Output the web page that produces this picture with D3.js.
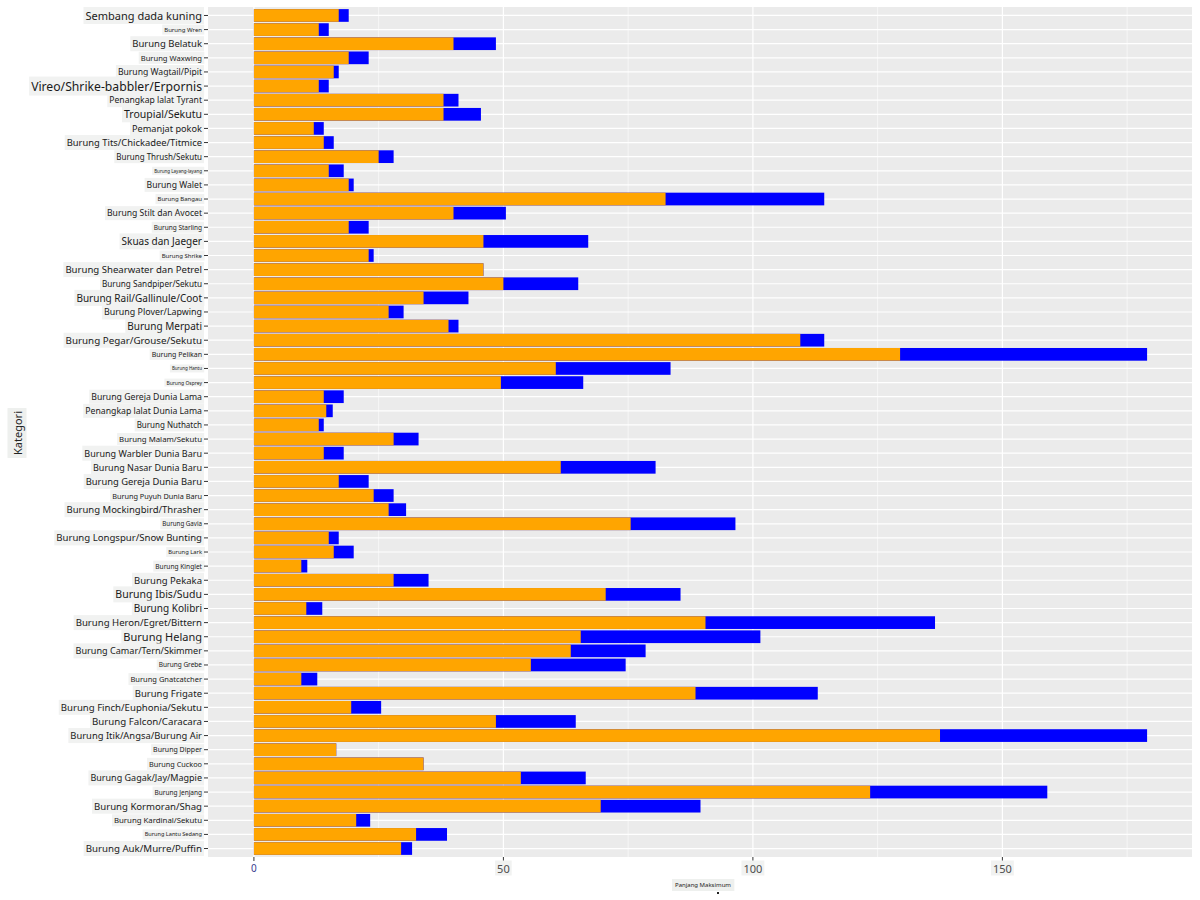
<!DOCTYPE html>
<html><head><meta charset="utf-8">
<script src="https://cdn.jsdelivr.net/npm/d3@7"></script>
<style>body{margin:0;background:#fff;} svg{display:block;font-family:"Noto Sans","Open Sans",sans-serif;}</style>
</head><body>
<svg id="chart" width="1200" height="900"></svg>
<script>
const categories = [
"Sembang dada kuning","Burung Wren","Burung Belatuk","Burung Waxwing","Burung Wagtail/Pipit",
"Vireo/Shrike-babbler/Erpornis","Penangkap lalat Tyrant","Troupial/Sekutu","Pemanjat pokok","Burung Tits/Chickadee/Titmice",
"Burung Thrush/Sekutu","Burung Layang-layang","Burung Walet","Burung Bangau","Burung Stilt dan Avocet",
"Burung Starling","Skuas dan Jaeger","Burung Shrike","Burung Shearwater dan Petrel","Burung Sandpiper/Sekutu",
"Burung Rail/Gallinule/Coot","Burung Plover/Lapwing","Burung Merpati","Burung Pegar/Grouse/Sekutu","Burung Pelikan",
"Burung Hantu","Burung Osprey","Burung Gereja Dunia Lama","Penangkap lalat Dunia Lama","Burung Nuthatch",
"Burung Malam/Sekutu","Burung Warbler Dunia Baru","Burung Nasar Dunia Baru","Burung Gereja Dunia Baru","Burung Puyuh Dunia Baru",
"Burung Mockingbird/Thrasher","Burung Gavia","Burung Longspur/Snow Bunting","Burung Lark","Burung Kinglet",
"Burung Pekaka","Burung Ibis/Sudu","Burung Kolibri","Burung Heron/Egret/Bittern","Burung Helang",
"Burung Camar/Tern/Skimmer","Burung Grebe","Burung Gnatcatcher","Burung Frigate","Burung Finch/Euphonia/Sekutu",
"Burung Falcon/Caracara","Burung Itik/Angsa/Burung Air","Burung Dipper","Burung Cuckoo","Burung Gagak/Jay/Magpie",
"Burung Jenjang","Burung Kormoran/Shag","Burung Kardinal/Sekutu","Burung Lantu Sedang","Burung Auk/Murre/Puffin"
];
const minLength = [
17,13,40,19,16, 13,38,38,12,14,
25,15,19,82.5,40, 19,46,23,46,50,
34,27,39,109.5,129.5, 60.5,49.5,14,14.5,13,
28,14,61.5,17,24, 27,75.5,15,16,9.5,
28,70.5,10.5,90.5,65.5, 63.5,55.5,9.5,88.5,19.5,
48.5,137.5,16.5,34,53.5, 123.5,69.5,20.5,32.5,29.5
];
const maxLength = [
19,15,48.5,23,17, 15,41,45.5,14,16,
28,18,20,114.3,50.5, 23,67,24,46,65,
43,30,41,114.3,179, 83.5,66,18,15.8,14,
33,18,80.5,23,28, 30.5,96.5,17,20,10.7,
35,85.5,13.7,136.5,101.5, 78.5,74.5,12.7,113,25.5,
64.5,179,16.5,34,66.5, 159,89.5,23.3,38.7,31.7
];
const xTicks = [0, 50, 100, 150];
const xMinor = [25, 75, 125, 175];
const xTitle = "Panjang Maksimum";
const yTitle = "Kategori";
// per-label font sizes (styling only)
const labelSizes = [
11,6,9.5,7.6,8.6, 12.2,8.6,10.5,9.2,9.4,
8,4.5,8.6,6,8.6, 6.5,10,6,9.6,8.2,
10,8.9,10,9.8,7, 4.5,5,8.7,8.7,8,
7.8,9,9,9.4,7.3, 9.5,6.2,9.6,5.8,6.6,
9.5,10.5,10,9.6,11, 9.1,6.5,7.5,9.5,9.6,
9.7,9.4,7,7.3,9, 6.5,9.6,7.8,5.6,9.7
];

const svg = d3.select("#chart");
const P = {left:208, right:1192, top:7, bottom:857};

const x = d3.scaleLinear().domain([-9.2, 188]).range([P.left, P.right]);
const y = d3.scaleBand().domain(categories).range([P.top, P.bottom]).paddingInner(0.1).paddingOuter(0.15);

const data = categories.map((c,i)=>({cat:c, min:minLength[i], max:maxLength[i], fs:labelSizes[i]}));

// panel
svg.append("rect").attr("x",P.left).attr("y",P.top).attr("width",P.right-P.left).attr("height",P.bottom-P.top).attr("fill","#EBEBEB");
// minor gridlines
svg.append("g").selectAll("line").data(xMinor).join("line")
  .attr("x1",d=>x(d)).attr("x2",d=>x(d)).attr("y1",P.top).attr("y2",P.bottom)
  .attr("stroke","#fff").attr("stroke-width",0.6);
// major gridlines
svg.append("g").selectAll("line").data(xTicks).join("line")
  .attr("x1",d=>x(d)).attr("x2",d=>x(d)).attr("y1",P.top).attr("y2",P.bottom)
  .attr("stroke","#fff").attr("stroke-width",1.2);
svg.append("g").selectAll("line").data(categories).join("line")
  .attr("x1",P.left).attr("x2",P.right).attr("y1",d=>y(d)+y.bandwidth()/2).attr("y2",d=>y(d)+y.bandwidth()/2)
  .attr("stroke","#fff").attr("stroke-width",1.2);

// bars
svg.append("g").selectAll("rect").data(data).join("rect")
  .attr("x",x(0)).attr("y",d=>y(d.cat)).attr("height",y.bandwidth())
  .attr("width",d=>x(d.max)-x(0)).attr("fill","#0000FF");
svg.append("g").selectAll("rect").data(data).join("rect")
  .attr("x",x(0)).attr("y",d=>y(d.cat)).attr("height",y.bandwidth())
  .attr("width",d=>x(d.min)-x(0)).attr("fill","#FFA500");

// y axis labels
const yl = svg.append("g");
data.forEach(d=>{
  const cy = y(d.cat)+y.bandwidth()/2;
  const g = yl.append("g");
  const t = g.append("text").attr("x",P.left-6).attr("y",cy).attr("text-anchor","end")
    .attr("dominant-baseline","central").attr("font-size",d.fs).attr("fill","#1a1a1a").text(d.cat);
  const b = t.node().getBBox();
  g.insert("rect","text").attr("x",b.x-2).attr("y",b.y-1).attr("width",b.width+4).attr("height",b.height+2).attr("fill","#F1F2F1");
  g.append("line").attr("x1",P.left-4).attr("x2",P.left).attr("y1",cy).attr("y2",cy).attr("stroke","#333").attr("stroke-width",1);
});

// x axis
const xa = svg.append("g");
xTicks.forEach((v,i)=>{
  xa.append("line").attr("x1",x(v)).attr("x2",x(v)).attr("y1",P.bottom).attr("y2",P.bottom+4).attr("stroke","#333");
  const g = xa.append("g");
  const t = g.append("text").attr("x",x(v)).attr("y",868).attr("text-anchor","middle").attr("dominant-baseline","central")
    .attr("font-size",i===0?10:11).attr("fill",i===0?"#3b3b8f":"#4d4d4d").text(v);
  const b = t.node().getBBox();
  if(i>0) g.insert("rect","text").attr("x",b.x-2).attr("y",b.y).attr("width",b.width+4).attr("height",b.height).attr("fill","#F1F2F1");
});
// x title
{
  const g = svg.append("g");
  const t = g.append("text").attr("x",703).attr("y",885).attr("text-anchor","middle").attr("dominant-baseline","central")
    .attr("font-size",6).attr("fill","#222").text(xTitle);
  const b = t.node().getBBox();
  g.insert("rect","text").attr("x",b.x-3).attr("y",b.y-2).attr("width",b.width+6).attr("height",b.height+4).attr("fill","#EEF0EE");
  svg.append("rect").attr("x",717).attr("y",892).attr("width",2).attr("height",2).attr("fill","#222");
}
// y title
{
  const g = svg.append("g").attr("transform","translate(17,433) rotate(-90)");
  const t = g.append("text").attr("x",0).attr("y",0).attr("text-anchor","middle").attr("dominant-baseline","central")
    .attr("font-size",11).attr("fill","#222").text(yTitle);
  const b = t.node().getBBox();
  g.insert("rect","text").attr("x",b.x-3).attr("y",b.y-2).attr("width",b.width+6).attr("height",b.height+4).attr("fill","#EEF0EE");
}
</script>
</body></html>
